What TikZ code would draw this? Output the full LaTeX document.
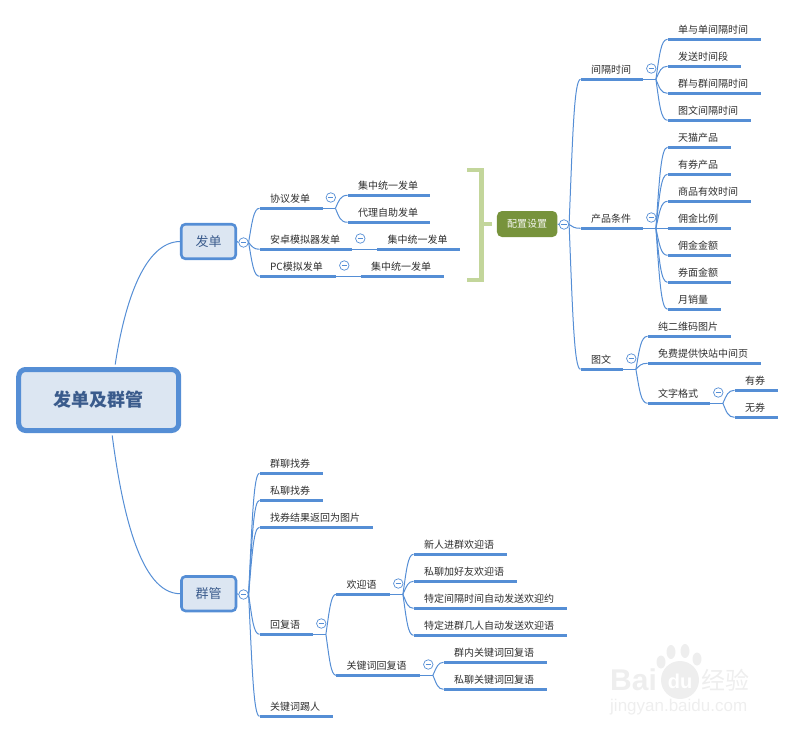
\documentclass[tikz,border=0pt]{standalone}
\usepackage{fontspec}
\setmainfont{Noto Sans CJK SC}
\newfontfamily\wmfont{Liberation Sans}
\usetikzlibrary{calc}
\definecolor{lineblue}{HTML}{558ED5}
\definecolor{boxfill}{HTML}{DCE6F2}
\definecolor{boxtext}{HTML}{3A5B8C}
\definecolor{brk}{HTML}{C3D69B}
\definecolor{olive}{HTML}{77933C}
\definecolor{wm}{HTML}{EEEEEE}
\tikzset{
  topicnode/.style={anchor=south west,inner ysep=0pt,inner xsep=10.4pt,minimum height=18.4pt,font=\fontsize{10}{12}\selectfont,text=black!82},
  under/.style={draw=lineblue,line width=2.7pt},
  link/.style={draw=lineblue,line width=1pt},
  togglenode/.style={circle,draw=lineblue,line width=0.7pt,fill=white,minimum size=9.5pt,inner sep=0pt,
    path picture={\draw[lineblue,line width=0.7pt] ([xshift=-2.6pt]path picture bounding box.center) -- ([xshift=2.6pt]path picture bounding box.center);}},
  mainbox/.style={draw=lineblue,fill=boxfill,rounded corners=4pt,line width=2.6pt,minimum width=54.5pt,minimum height=34.5pt,inner sep=0pt,text=boxtext,font=\fontsize{13}{15}\selectfont},
  rootbox/.style={draw=lineblue,fill=boxfill,rounded corners=7pt,line width=5pt,minimum width=160pt,minimum height=61pt,inner sep=0pt,text=boxtext,font=\fontsize{18}{20}\selectfont\bfseries},
  olivebox/.style={fill=olive,rounded corners=5pt,minimum width=60.5pt,minimum height=26pt,inner sep=0pt,text=white!92!olive,font=\fontsize{10}{12}\selectfont},
  bracket/.style={draw=brk,line width=4.6pt},
  wmtext/.style={text=wm,inner sep=0pt}
}
\newcommand\tpc[5]{%
  \node[topicnode,minimum width={(#3-#2)*1pt},text width={(#3-#2-20.8)*1pt}] (#1) at (#2,#4) {\mbox{#5}};
  \draw[under] (#1.south west) -- (#1.south east);}
\newcommand\linkcurve[2]{%
  \draw[link] let \p1=(#1),\p2=(#2) in (\p1) .. controls ({\x1+3.5pt},{\y1+0.6*(\y2-\y1)}) and ({\x1+5pt},\y2) .. (\p2);}
\newcommand\branch[2]{%
  \coordinate (j) at ($(#1.south east)+(12.5,0)$);
  \draw[link] (#1.south east) -- (j);
  \foreach \c in {#2} {\linkcurve{j}{\c.south west}}
  \node[togglenode] (t#1) at ($(#1.south east)+(7.9,-10.8)$) {};}
\newcommand\hubbranch[3]{%
  \node[togglenode] (t#1) at #2 {};
  \draw[link] (#1.east) -- (t#1.west);
  \foreach \c in {#3} {\linkcurve{t#1.east}{\c.south west}}}
\begin{document}
\begin{tikzpicture}[x=1pt,y=-1pt]
\useasboundingbox (0,0) rectangle (795,733);
% watermark
\node[wmtext,anchor=west,font=\wmfont\bfseries\fontsize{30}{30}\selectfont] (wba) at (610,680) {Bai};
\node[circle,fill=wm,minimum size=38pt,inner sep=0pt] (wc) at (680,680) {};
\node[text=white,inner sep=0pt,font=\wmfont\bfseries\fontsize{20}{20}\selectfont] (wdu) at (680,681) {du};
\fill[wm] (661,662) ellipse (4.5 and 6.5) (671,652) ellipse (4.5 and 7) (685,651) ellipse (4.5 and 7) (697,659) ellipse (4.5 and 6.5);
\node[wmtext,anchor=west,font=\fontsize{24}{24}\selectfont] (wjy) at (701,680) {经验};
\node[wmtext,anchor=west,font=\wmfont\fontsize{17}{17}\selectfont] (wurl) at (610,707) {jingyan.baidu.com};
% central nodes
\node[rootbox] (root) at (98.7,400) {发单及群管};
\node[mainbox] (fadan) at (208.5,241.5) {发单};
\node[mainbox] (qunguan) at (208.7,593.7) {群管};
\node[olivebox] (peizhi) at (527.2,224) {配置设置};
\draw[link] ($(root.north)+(16.5,-2.5)$) .. controls (125,300) and (145,242) .. (fadan.west);
\draw[link] ($(root.south)+(13.5,2.5)$) .. controls (122,510) and (140,593.7) .. (qunguan.west);
% upper left
\tpc{xieyi}{259.5}{322.5}{208.3}{协议发单}
\tpc{jz1}{347.5}{430}{195.3}{集中统一发单}
\tpc{dl}{347.5}{430}{222.3}{代理自助发单}
\tpc{anzhuo}{259.5}{352}{249.3}{安卓模拟器发单}
\tpc{jz2}{377}{460}{249.3}{集中统一发单}
\tpc{pcsim}{259.5}{336}{276.3}{PC模拟发单}
\tpc{jz3}{360.5}{443.5}{276.3}{集中统一发单}
\hubbranch{fadan}{(243.5,242.5)}{xieyi,anzhuo,pcsim}
\branch{xieyi}{jz1,dl}
\branch{anzhuo}{jz2}
\branch{pcsim}{jz3}
% bracket
\coordinate (bt) at (467,170);
\coordinate (bb) at (467,280);
\draw[bracket] (bt) -- (481.7,170) -- (481.7,280) -- (bb);
\draw[bracket] (481.7,224) -- (492,224);
% right
\tpc{jiange}{580.5}{643}{79.3}{间隔时间}
\tpc{a1}{667.5}{760.5}{39.3}{单与单间隔时间}
\tpc{a2}{667.5}{741}{66.3}{发送时间段}
\tpc{a3}{667.5}{760.5}{93.3}{群与群间隔时间}
\tpc{a4}{667.5}{751}{120.3}{图文间隔时间}
\tpc{chanpin}{580.5}{643}{228.3}{产品条件}
\tpc{b1}{667.5}{731}{147.3}{天猫产品}
\tpc{b2}{667.5}{731}{174.3}{有券产品}
\tpc{b3}{667.5}{751}{201.3}{商品有效时间}
\tpc{b4}{667.5}{731}{228.3}{佣金比例}
\tpc{b5}{667.5}{731}{255.3}{佣金金额}
\tpc{b6}{667.5}{731}{282.3}{券面金额}
\tpc{b7}{667.5}{721}{309.3}{月销量}
\tpc{tuwen}{580.5}{623}{369.3}{图文}
\tpc{c1}{647.5}{731}{336.3}{纯二维码图片}
\tpc{c2}{647.5}{761}{363.3}{免费提供快站中间页}
\tpc{geshi}{647.5}{710}{403.3}{文字格式}
\tpc{d1}{734.5}{777.5}{390.3}{有券}
\tpc{d2}{734.5}{777.5}{417.3}{无券}
\hubbranch{peizhi}{(564,224.5)}{jiange,chanpin,tuwen}
\branch{jiange}{a1,a2,a3,a4}
\branch{chanpin}{b1,b2,b3,b4,b5,b6,b7}
\branch{tuwen}{c1,c2,geshi}
\branch{geshi}{d1,d2}
% lower
\tpc{e1}{259.5}{323}{473.3}{群聊找券}
\tpc{e2}{259.5}{323}{500.3}{私聊找券}
\tpc{e3}{259.5}{373}{527.3}{找券结果返回为图片}
\tpc{huifu}{259.5}{313}{634.3}{回复语}
\tpc{e5}{259.5}{333}{716.3}{关键词踢人}
\tpc{huanying}{336}{390}{594.3}{欢迎语}
\tpc{guanjian}{336}{420}{675.3}{关键词回复语}
\tpc{f1}{413.5}{507}{554.3}{新人进群欢迎语}
\tpc{f2}{413.5}{517}{581.3}{私聊加好友欢迎语}
\tpc{f3}{413.5}{567}{608.3}{特定间隔时间自动发送欢迎约}
\tpc{f4}{413.5}{567}{635.3}{特定进群几人自动发送欢迎语}
\tpc{g1}{443.5}{547}{662.3}{群内关键词回复语}
\tpc{g2}{443.5}{547}{689.3}{私聊关键词回复语}
\hubbranch{qunguan}{(243.5,594.5)}{e1,e2,e3,huifu,e5}
\branch{huifu}{huanying,guanjian}
\branch{huanying}{f1,f2,f3,f4}
\branch{guanjian}{g1,g2}
\end{tikzpicture}
\end{document}
